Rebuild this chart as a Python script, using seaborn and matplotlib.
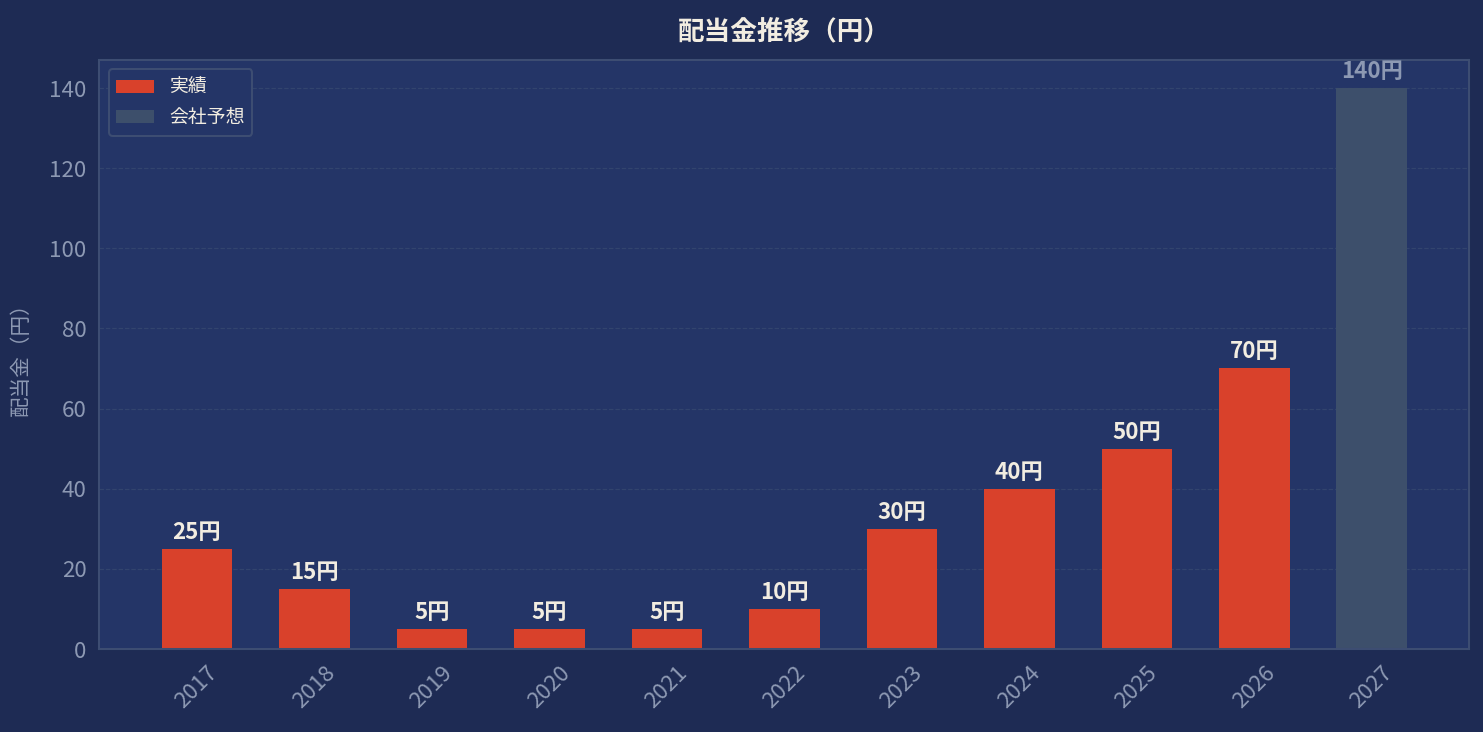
import numpy as np
import pandas as pd
import matplotlib
matplotlib.use("Agg")
import matplotlib.pyplot as plt
import seaborn as sns

# データ
years = ['2017', '2018', '2019', '2020', '2021', '2022', '2023', '2024', '2025', '2026', '2027']
dividends = [25, 15, 5, 5, 5, 10, 30, 40, 50, 70, 140]
kinds = ['実績'] * 10 + ['会社予想']

df = pd.DataFrame({'年': years, '配当金': dividends, '区分': kinds})

fig_bg = '#1e2b54'
ax_bg = '#243567'
red = '#d9412b'
grey_bar = '#3d4f6b'
text_light = '#f2ede1'
text_dim = '#8d99b3'
edge = '#3d4d72'

sns.set_theme(style="dark")
plt.rcParams['font.family'] = ['Noto Sans CJK JP', 'DejaVu Sans']

fig, ax = plt.subplots(figsize=(12, 5.923), dpi=123.6)
fig.patch.set_facecolor(fig_bg)
ax.set_facecolor(ax_bg)

sns.barplot(data=df, x='年', y='配当金', hue='区分', dodge=False,
            palette={'実績': red, '会社予想': grey_bar}, width=0.6,
            saturation=1, linewidth=0, ax=ax)

# 値ラベル
for i, (v, k) in enumerate(zip(dividends, kinds)):
    col = text_light if k == '実績' else text_dim
    ax.annotate(f'{v}円', (i, v), xytext=(0, 3), textcoords='offset points',
                ha='center', va='bottom', fontsize=13, fontweight='bold', color=col)

ax.set_xlim(-0.83, 10.83)
ax.set_ylim(0, 147)
ax.set_yticks(np.arange(0, 141, 20))
ax.set_title('配当金推移（円）', fontsize=15.5, fontweight='bold', color=text_light, pad=12)
ax.set_xlabel('')
ax.set_ylabel('配当金（円）', fontsize=12, color=text_dim, labelpad=10)

ax.tick_params(axis='x', colors=text_dim, labelsize=13, rotation=45, length=4, color=edge, width=1.2)
ax.tick_params(axis='y', colors=text_dim, labelsize=13, length=4, color=edge, width=1.2)
for lab in ax.get_xticklabels():
    lab.set_color(text_dim)
for lab in ax.get_yticklabels():
    lab.set_color(text_dim)

ax.grid(axis='y', linestyle='--', linewidth=0.7, color='#34466f', alpha=0.9)
ax.set_axisbelow(True)
for s in ax.spines.values():
    s.set_color(edge)
    s.set_linewidth(1.2)

leg = ax.legend(loc='upper left', fontsize=11, facecolor=ax_bg, edgecolor=edge,
                labelcolor=text_light, framealpha=1)
leg.get_frame().set_linewidth(1.2)

plt.subplots_adjust(left=0.067, right=0.9906, top=0.918, bottom=0.1134)
plt.savefig('out.png', facecolor=fig_bg)
